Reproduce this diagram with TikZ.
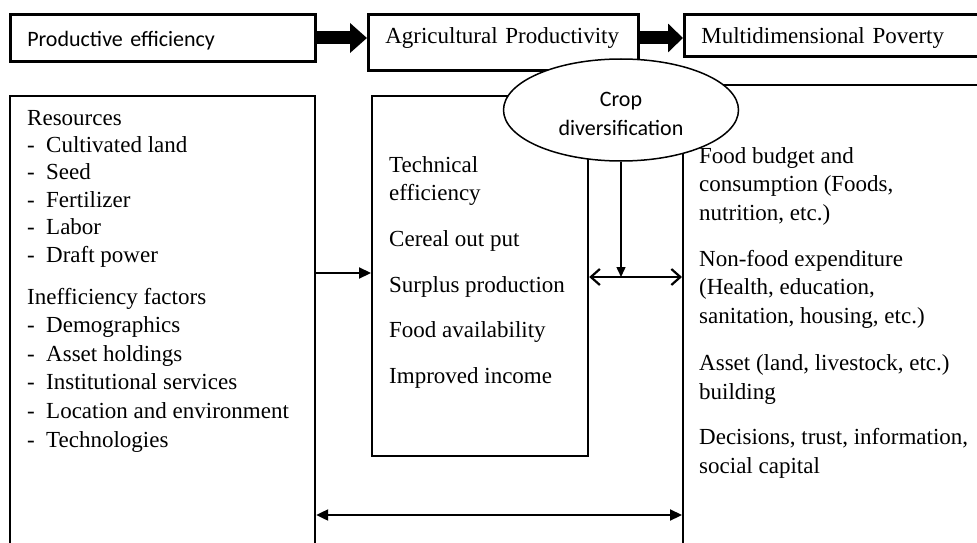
\documentclass[tikz,border=0pt]{standalone}
\usepackage{fontspec}
\setmainfont{Liberation Serif}
\newfontfamily\calibrifont{Carlito}
\usetikzlibrary{arrows.meta,shapes.geometric,positioning}
\newcommand{\dashitem}{\makebox[19pt][l]{-}}
\tikzset{
	x=1pt, y=-1pt,
	headbox/.style = {draw, line width=2.6pt, anchor=north west, inner xsep=17pt, inner ysep=0pt, align=left, font=\fontsize{23}{27}\selectfont},
	bigbox/.style = {draw, line width=2.2pt, anchor=north west, inner sep=0pt},
	txt/.style = {anchor=base west, inner sep=0pt, align=left, font=\fontsize{23}{28.5}\selectfont},
	blockarrow/.style = {line width=13pt, -{Triangle[length=17pt, width=29pt]}},
	thinarrow/.style = {line width=2.2pt, -{Triangle[length=12pt, width=11pt]}},
	twoheads/.style = {line width=2.2pt, {Triangle[length=12pt, width=11pt]}-{Triangle[length=12pt, width=11pt]}},
	bothways/.style = {line width=2.2pt, {Straight Barb[length=9pt, width=16pt]}-{Straight Barb[length=9pt, width=16pt]}},
	downarrow/.style = {line width=1.5pt, -{Triangle[length=10pt, width=9pt]}}
}

\begin{document}
\begin{tikzpicture}
	\clip (0,0) rectangle (977,543);
	% top row
	\node[headbox, text width=271pt, minimum height=47pt, font=\calibrifont\fontsize{22}{26}\selectfont, text height=22pt, text depth=5pt] (prodeff) at (9,13) {Productive efficiency};
	\node[headbox, text width=236pt, minimum height=56pt, text height=15pt, text depth=13pt] (agriprod) at (367,13) {Agricultural Productivity};
	\node[headbox, text width=330pt, minimum height=42pt, text height=21pt, text depth=5pt] (multipov) at (683,13) {Multidimensional Poverty};
	\coordinate (toprow) at (0,38);
	\draw[blockarrow] (prodeff.east |- toprow) -- (agriprod.west |- toprow);
	\draw[blockarrow, -{Triangle[length=15pt, width=28pt]}] (agriprod.east |- toprow) -- (multipov.west |- toprow);
	% big boxes
	\node[bigbox, minimum width=305pt, minimum height=520pt] (resbox) at (9,95) {};
	\node[bigbox, minimum width=216pt, minimum height=360pt] (outbox) at (371,95) {};
	\node[bigbox, minimum width=360pt, minimum height=520pt] (povbox) at (682,84) {};
	% left box (base = last line)
	\node[txt, font=\fontsize{23}{27.4}\selectfont] (resources) at (27,262) {Resources\\\dashitem Cultivated land\\\dashitem Seed\\\dashitem Fertilizer\\\dashitem Labor\\\dashitem Draft power};
	\node[txt, font=\fontsize{23}{28.6}\selectfont] (ineff) at (27,447) {Inefficiency factors\\\dashitem Demographics\\\dashitem Asset holdings\\\dashitem Institutional services\\\dashitem Location and environment\\\dashitem Technologies};
	% centre box
	\node[txt, font=\fontsize{23}{28}\selectfont] (techeff) at (389,200) {Technical\\efficiency};
	\node[txt] (cereal) at (389,246) {Cereal out put};
	\node[txt] (surplus) at (389,292) {Surplus production};
	\node[txt] (foodav) at (389,337) {Food availability};
	\node[txt] (income) at (389,383) {Improved income};
	% right box
	\node[txt] (foodbud) at (699,220) {Food budget and\\consumption (Foods,\\nutrition, etc.)};
	\node[txt] (nonfood) at (699,323) {Non-food expenditure\\(Health, education,\\sanitation, housing, etc.)};
	\node[txt] (asset) at (699,399) {Asset (land, livestock, etc.)\\building};
	\node[txt] (decis) at (699,473) {Decisions, trust, information,\\social capital};
	% crop diversification
	\node[ellipse, draw, fill=white, line width=1.5pt, minimum width=235pt, minimum height=102pt] (cropdiv) at (621,110) {};
	\node[anchor=base, inner sep=0pt, align=center, font=\calibrifont\fontsize{22}{29}\selectfont] (croptext) at (621,135) {Crop\\diversification};
	% connectors
	\coordinate (leftrow) at (0,273);
	\coordinate (midrow) at (0,277);
	\coordinate (botrow) at (0,515);
	\draw[thinarrow] (resbox.east |- leftrow) -- (outbox.west |- leftrow);
	\draw[bothways] (outbox.east |- midrow) -- (povbox.west |- midrow);
	\draw[downarrow] (cropdiv.south) -- (cropdiv.south |- midrow);
	\draw[twoheads] (resbox.east |- botrow) -- (povbox.west |- botrow);
\end{tikzpicture}
\end{document}
